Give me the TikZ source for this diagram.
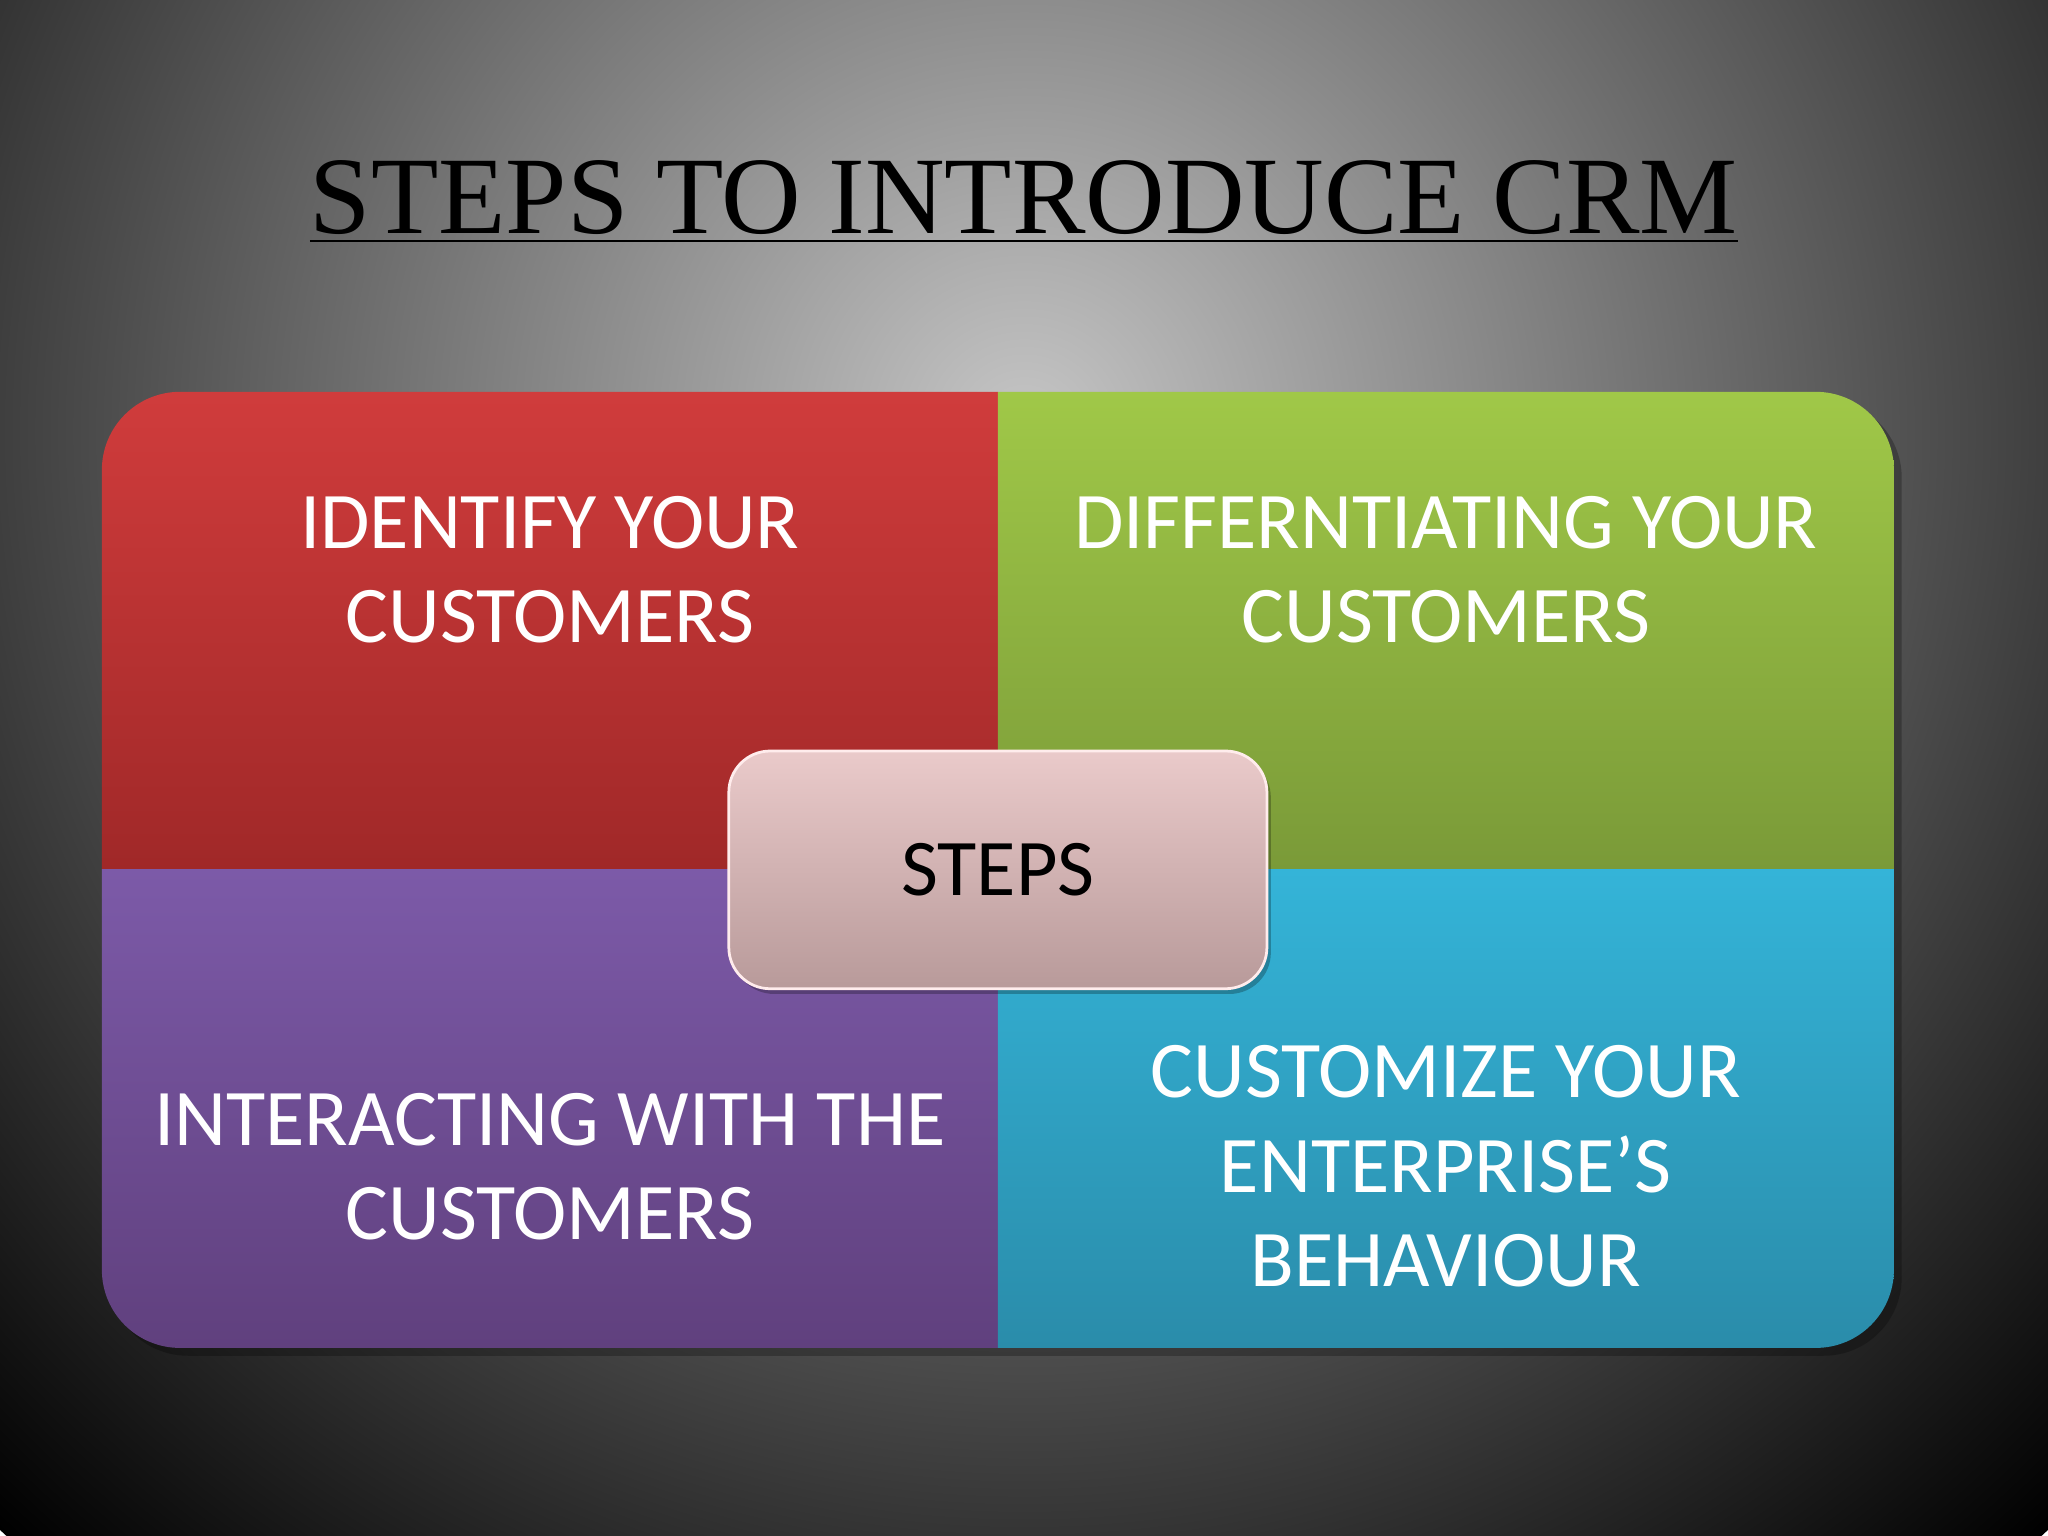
\documentclass[tikz,border=0pt]{standalone}
\usepackage{fontspec}
\setmainfont{Carlito}
\newfontfamily\titlefont{Liberation Serif}
\begin{document}
\begin{tikzpicture}[x=0.01cm,y=-0.01cm,
  qtext/.style={text=white,font=\fontsize{17.5}{20.5}\selectfont,align=center},
]
\useasboundingbox (0,0) rectangle (1568,1176);
\shade[inner color=gray!45,outer color=black] (784,330) circle (1150);
\node[font=\titlefont\fontsize{24}{27}\selectfont,inner sep=2pt] (title) at (784,155) {\underline{STEPS TO INTRODUCE CRM}};
\fill[black,opacity=0.25,rounded corners=17pt] (84,306) rectangle (1456,1038);
\begin{scope}
\clip[rounded corners=17pt] (78,300) rectangle (1450,1032);
\shade[top color={rgb,255:red,208;green,60;blue,60},bottom color={rgb,255:red,160;green,40;blue,40}] (78,300) rectangle (764,666);
\shade[top color={rgb,255:red,160;green,200;blue,72},bottom color={rgb,255:red,122;green,154;blue,56}] (764,300) rectangle (1450,666);
\shade[top color={rgb,255:red,124;green,90;blue,168},bottom color={rgb,255:red,96;green,64;blue,126}] (78,666) rectangle (764,1032);
\shade[top color={rgb,255:red,52;green,180;blue,216},bottom color={rgb,255:red,42;green,140;blue,170}] (764,666) rectangle (1450,1032);
\end{scope}
\node[qtext] (q1) at (421,436) {IDENTIFY YOUR\\CUSTOMERS};
\node[qtext] (q2) at (1107,436) {DIFFERNTIATING YOUR\\CUSTOMERS};
\node[qtext] (q3) at (421,893) {INTERACTING WITH THE\\CUSTOMERS};
\node[qtext] (q4) at (1107,893) {CUSTOMIZE YOUR\\ENTERPRISE’S\\BEHAVIOUR};
\fill[black,opacity=0.25,rounded corners=9pt] (561,579) rectangle (973,761);
\shade[rounded corners=9pt,top color={rgb,255:red,234;green,202;blue,202},bottom color={rgb,255:red,184;green,154;blue,154},draw=white!70!pink,line width=0.6pt] (558,575) rectangle (970,757);
\node[font=\fontsize{17.5}{20.5}\selectfont] (steps) at (764,666) {STEPS};
\end{tikzpicture}
\end{document}
